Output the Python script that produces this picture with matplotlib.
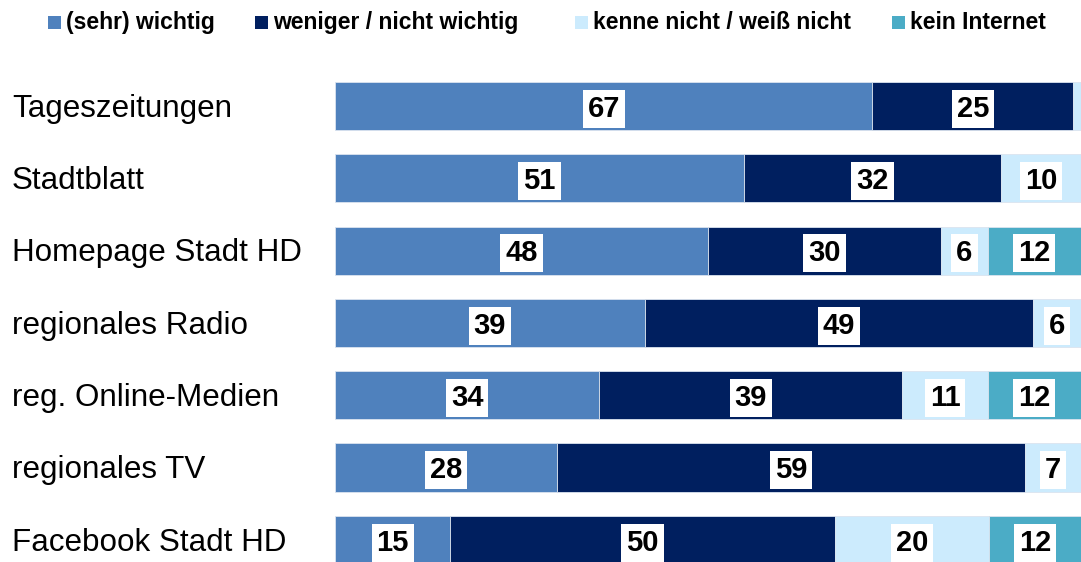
import numpy as np
import matplotlib.pyplot as plt
from matplotlib.patches import Rectangle

plt.rcParams['font.family'] = ['Liberation Sans', 'DejaVu Sans']

# Data (shares in %, bars are normalised to the sum of the shown answers)
categories = ['Tageszeitungen', 'Stadtblatt', 'Homepage Stadt HD', 'regionales Radio',
              'reg. Online-Medien', 'regionales TV', 'Facebook Stadt HD']
series_names = ['(sehr) wichtig', 'weniger / nicht wichtig',
                'kenne nicht / weiß nicht', 'kein Internet']
sehr_wichtig = [67, 51, 48, 39, 34, 28, 15]
weniger_wichtig = [25, 32, 30, 49, 39, 59, 50]
kenne_nicht = [1, 10, 6, 6, 11, 7, 20]
kein_internet = [0, 0, 12, 0, 12, 0, 12]

colors = ['#4F81BD', '#001F5F', '#CCEBFD', '#4BACC6']

W, H = 1081, 562
fig = plt.figure(figsize=(W / 100, H / 100), dpi=100)
ax = fig.add_axes([335 / W, 0, 746 / W, 1])

data = np.array([sehr_wichtig, weniger_wichtig, kenne_nicht, kein_internet], dtype=float)
totals = data.sum(axis=0)
shares = data / totals * 100
y = np.arange(len(categories))

left = np.zeros(len(categories))
for k in range(len(series_names)):
    ax.barh(y, shares[k], left=left, height=0.665, color=colors[k],
            edgecolor='#dbe4ef', linewidth=0.6)
    for i in range(len(categories)):
        if data[k, i] >= 5:
            ax.text(left[i] + shares[k, i] / 2, y[i] + 0.15, f'{int(data[k, i])}',
                    ha='center', va='baseline', fontsize=21, fontweight='bold',
                    color='black',
                    bbox=dict(boxstyle='square,pad=0.17', fc='white', ec='none'))
    left += shares[k]

ax.set_xlim(0, 100)
ax.set_ylim(6.307, -1.466)
ax.axis('off')

# category labels
for i, cat in enumerate(categories):
    ax.text(-0.433, i + 0.15, cat, transform=ax.get_yaxis_transform(), ha='left',
            va='baseline', fontsize=22.6, color='black')

# legend
legend_x = [48, 255, 575, 892]
for x0, name, c in zip(legend_x, series_names, colors):
    fig.patches.append(Rectangle((x0 / W, 1 - 29 / H), 13 / W, 13 / H,
                                 transform=fig.transFigure, fc=c, ec='none'))
    fig.text((x0 + 18) / W, 1 - 29 / H, name, ha='left', va='baseline',
             fontsize=16.5, fontweight='bold')

fig.savefig('out.png', dpi=100)
